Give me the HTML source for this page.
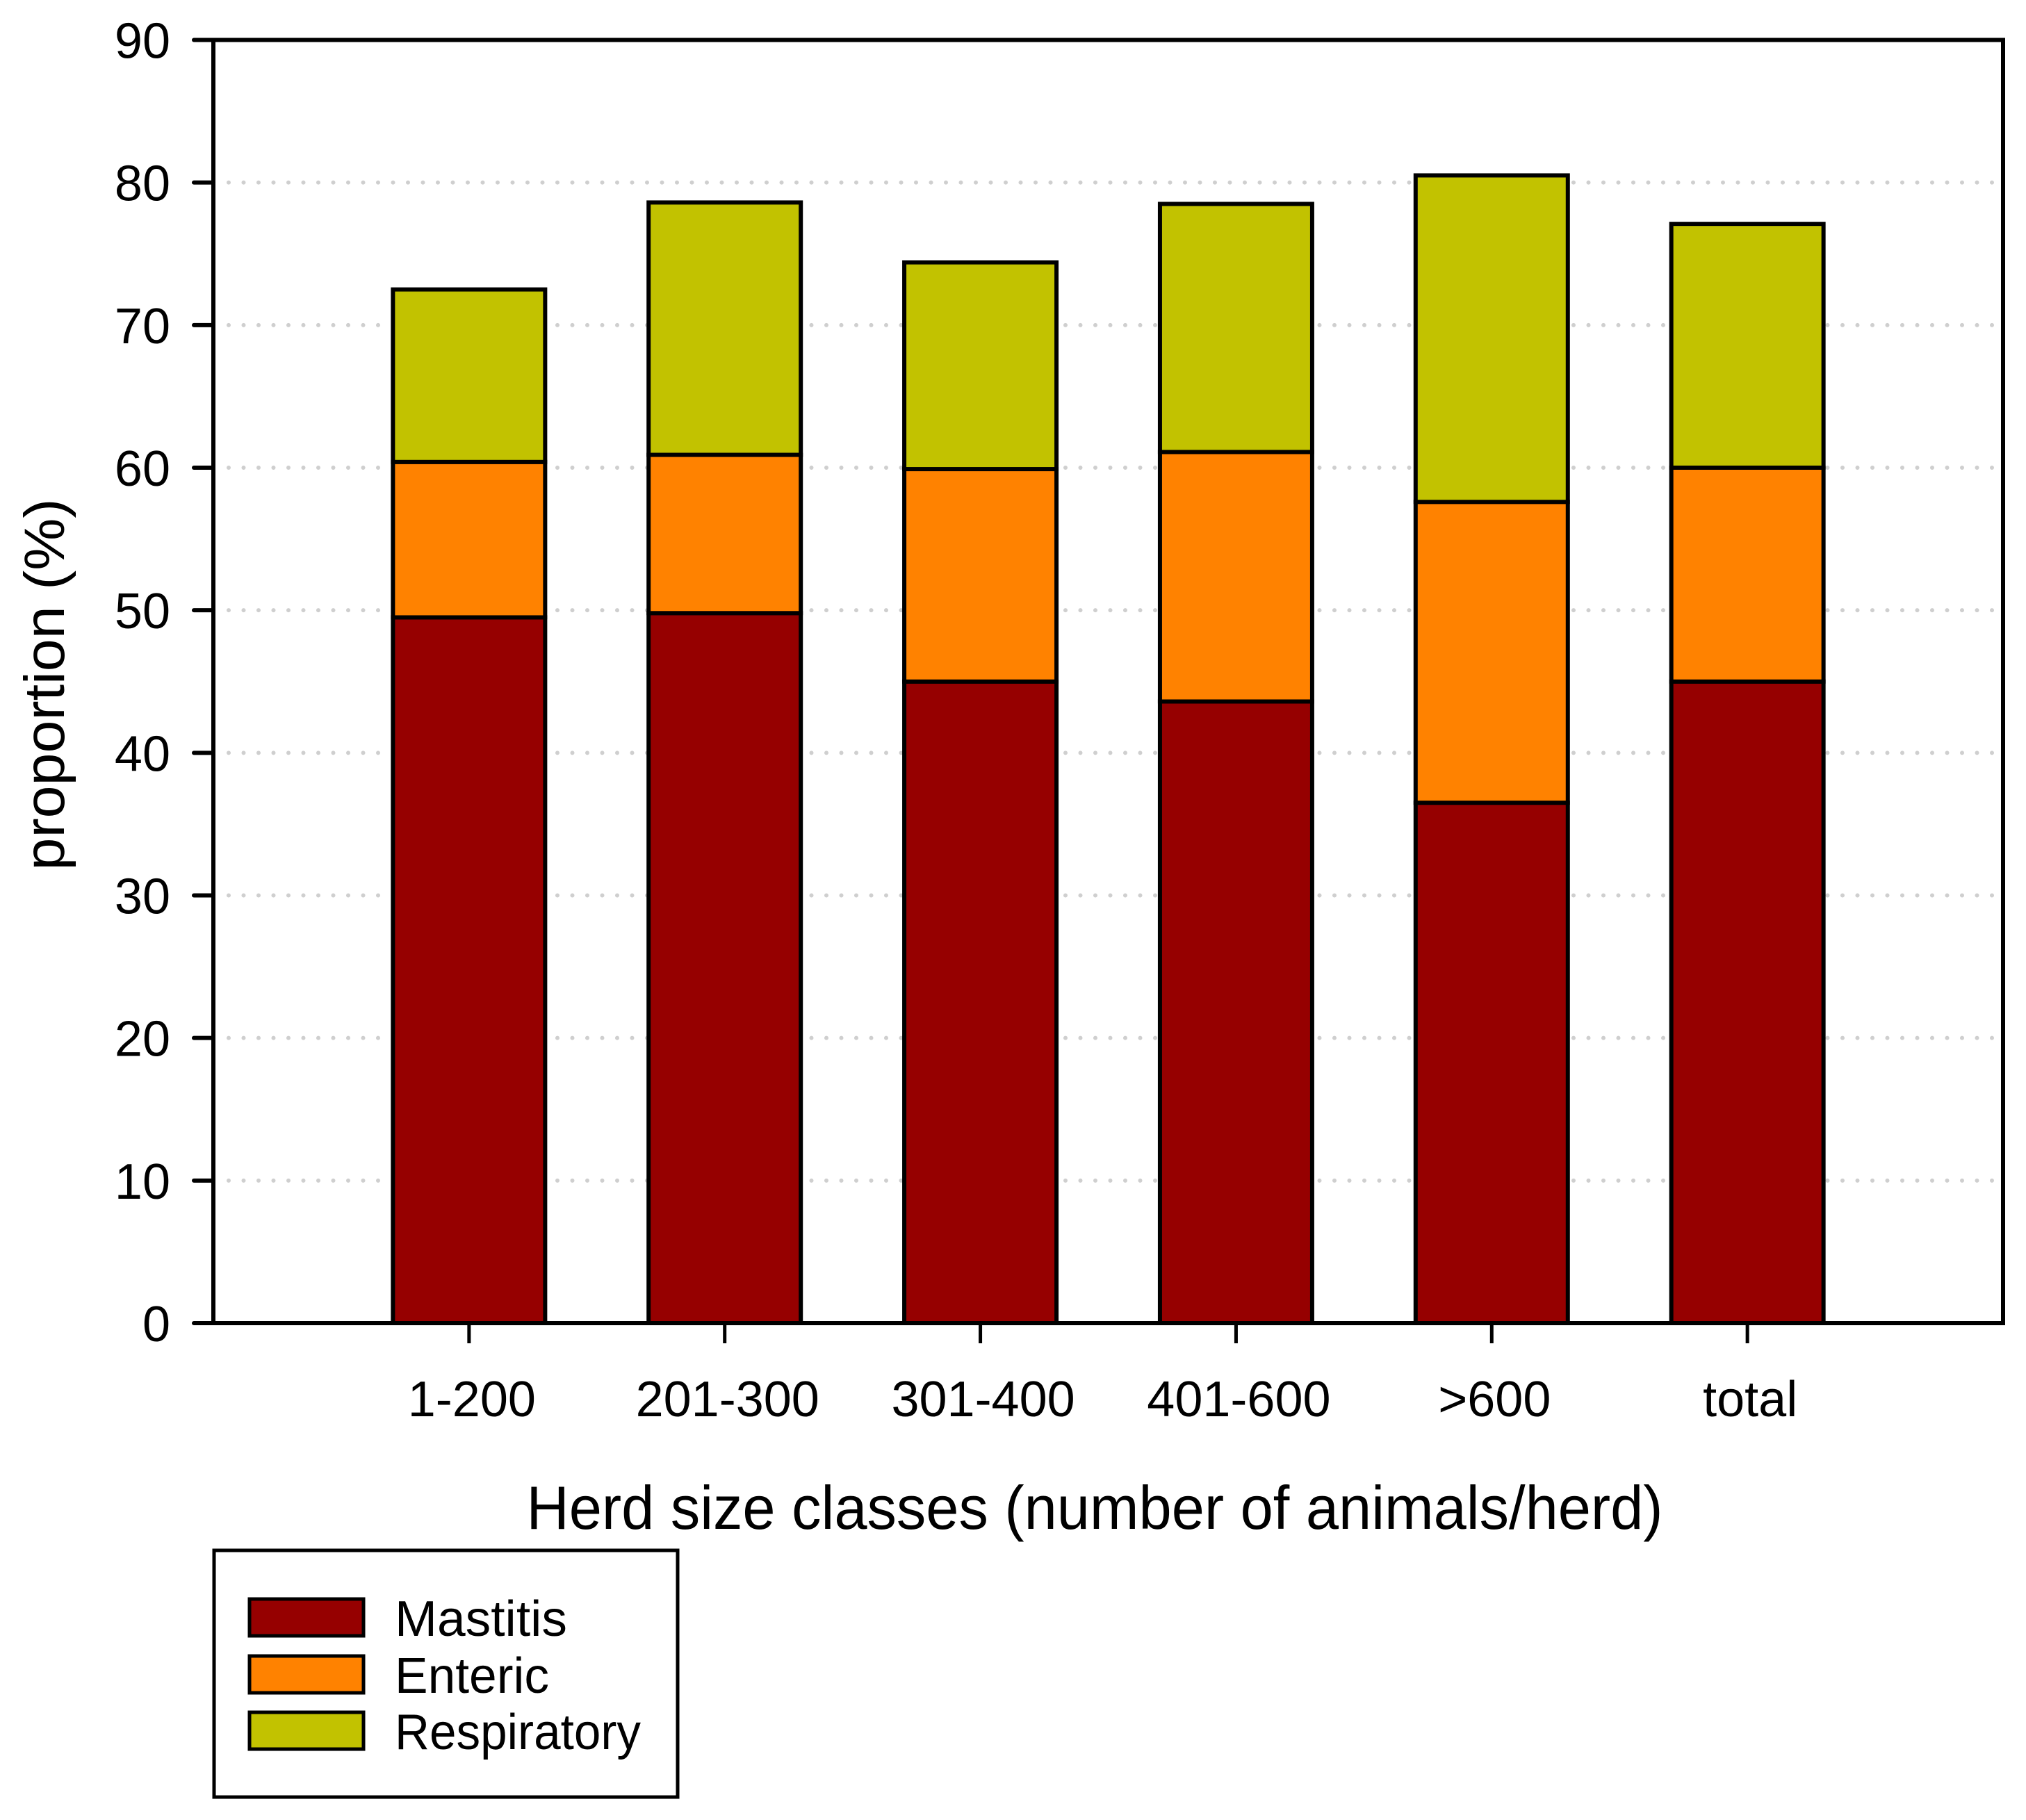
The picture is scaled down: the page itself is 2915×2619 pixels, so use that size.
<!DOCTYPE html>
<html><head><meta charset="utf-8">
<style>
html,body{margin:0;padding:0;background:#fff;}
svg{display:block;font-family:"Liberation Sans",Arial,sans-serif;}
</style></head>
<body>
<svg id="chart" width="2915" height="2619" viewBox="0 0 2915 2619" xmlns="http://www.w3.org/2000/svg">
<g id="grid"></g>
<g id="bars"></g>
<g id="axes"></g>
<text x="1575" y="2200" font-size="88" text-anchor="middle" textLength="1635" lengthAdjust="spacingAndGlyphs">Herd size classes (number of animals/herd)</text>
<text x="0" y="0" font-size="82" text-anchor="middle" textLength="535" lengthAdjust="spacingAndGlyphs" transform="translate(92,985) rotate(-90)">proportion (%)</text>
<g>
<rect x="308" y="2231" width="667" height="355" fill="#fff" stroke="#000" stroke-width="5"/>
<rect x="359" y="2301" width="164" height="53" fill="#960000" stroke="#000" stroke-width="5"/>
<text x="568" y="2354" font-size="72" textLength="248" lengthAdjust="spacingAndGlyphs">Mastitis</text>
<rect x="359" y="2383" width="164" height="53" fill="#ff8200" stroke="#000" stroke-width="5"/>
<text x="568" y="2436" font-size="72" textLength="222" lengthAdjust="spacingAndGlyphs">Enteric</text>
<rect x="359" y="2464" width="164" height="53" fill="#c2c200" stroke="#000" stroke-width="5"/>
<text x="568" y="2517" font-size="72" textLength="354" lengthAdjust="spacingAndGlyphs">Respiratory</text>
</g>
</svg>
<script>
const categories = ["1-200","201-300","301-400","401-600",">600","total"];
const mastitis = [49.5, 49.8, 45.0, 43.6, 36.5, 45.0];
const enteric = [10.9, 11.1, 14.9, 17.5, 21.1, 15.0];
const respiratory = [12.1, 17.7, 14.5, 17.4, 22.9, 17.1];
const yTicks = [0,10,20,30,40,50,60,70,80,90];

const NS = "http://www.w3.org/2000/svg";
const L = 307, R = 2882, T = 57.5, B = 1904;
const yMax = 90;
const xScale = i => L + (R - L) / (categories.length + 1) * (i + 1);
const yScale = v => B - (B - T) * v / yMax;
const barW = 219;

function mk(tag, attrs, parent) {
  const e = document.createElementNS(NS, tag);
  for (const k in attrs) e.setAttribute(k, attrs[k]);
  parent.appendChild(e);
  return e;
}
const grid = document.getElementById('grid');
const bars = document.getElementById('bars');
const axes = document.getElementById('axes');

yTicks.forEach(t => {
  if (t > 0 && t < yMax) {
    const gl = mk('line', {x1: L + 22, x2: R - 10, y1: yScale(t), y2: yScale(t), stroke: '#cfcfcf', 'stroke-width': 6, 'stroke-dasharray': '0 21.5', 'stroke-linecap': 'round'}, grid);
    
    
  }
});

const series = [
  {name: 'mastitis', vals: mastitis, color: '#960000'},
  {name: 'enteric', vals: enteric, color: '#ff8200'},
  {name: 'respiratory', vals: respiratory, color: '#c2c200'}
];
categories.forEach((c, i) => {
  let base = 0;
  series.forEach(s => {
    const v = s.vals[i];
    const y0 = yScale(base), y1 = yScale(base + v);
    const r = mk('rect', {x: xScale(i) - barW / 2, y: y1, width: barW, height: y0 - y1, fill: s.color, stroke: '#000', 'stroke-width': 6}, bars);
    
    
    base += v;
  });
});

const frame = mk('rect', {x: L, y: T, width: R - L, height: B - T, fill: 'none', stroke: '#000', 'stroke-width': 6}, axes);



yTicks.forEach(t => {
  const tk = mk('line', {x1: 279, x2: L, y1: yScale(t), y2: yScale(t), stroke: '#000', 'stroke-width': 6, 'stroke-linecap': 'round'}, axes);
  
  
  const lb = mk('text', {x: 245, y: yScale(t) + 26, 'font-size': 72, 'text-anchor': 'end'}, axes);
  lb.textContent = t;
  
  
});

categories.forEach((c, i) => {
  const tk = mk('line', {x1: xScale(i), x2: xScale(i), y1: B, y2: 1933, stroke: '#000', 'stroke-width': 5}, axes);
  
  
  const lb = mk('text', {x: xScale(i) + 4, y: 2038, 'font-size': 72, 'text-anchor': 'middle'}, axes);
  lb.textContent = c;
  
  
});
</script>
</body></html>
